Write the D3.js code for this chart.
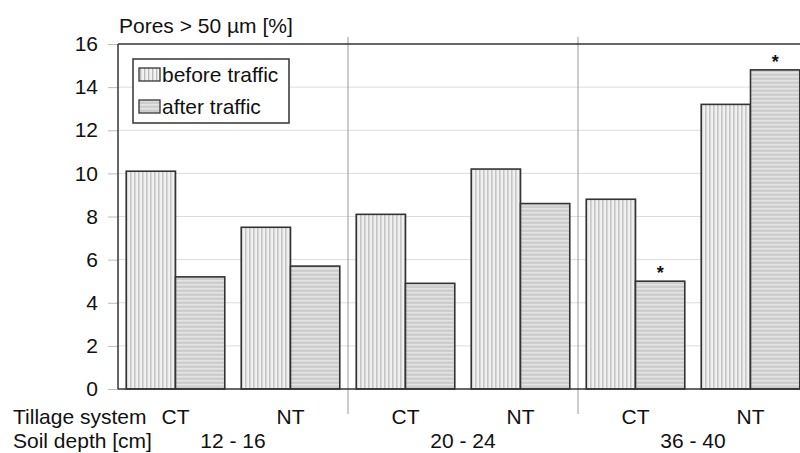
<!DOCTYPE html>
<html>
<head>
<meta charset="utf-8">
<script src="https://cdn.jsdelivr.net/npm/d3@7"></script>
<style>
  body { margin: 0; background: #fff; }
  svg { display: block; font-family: "Liberation Sans", Arial, sans-serif; }
</style>
</head>
<body>
<div id="chart"></div>
<script>
// data
const tillage = ["CT", "NT", "CT", "NT", "CT", "NT"];
const depths = ["12 - 16", "20 - 24", "36 - 40"];
const beforeTraffic = [10.1, 7.5, 8.1, 10.2, 8.8, 13.2];
const afterTraffic = [5.2, 5.7, 4.9, 8.6, 5.0, 14.8];
const afterSignificant = [false, false, false, false, true, true];
const seriesNames = ["before traffic", "after traffic"];
const yTicks = [0, 2, 4, 6, 8, 10, 12, 14, 16];

const width = 800, height = 453;
const plotLeft = 118, plotRight = 808, plotTop = 44, plotBottom = 389;

const svg = d3.select("#chart").append("svg")
    .attr("width", width)
    .attr("height", height)
    .style("overflow", "hidden");

// patterns
const defs = svg.append("defs");
const pv = defs.append("pattern").attr("id", "pBefore")
    .attr("patternUnits", "userSpaceOnUse").attr("width", 4).attr("height", 4);
pv.append("rect").attr("width", 4).attr("height", 4).attr("fill", "#f2f2f2");
pv.append("rect").attr("x", 0).attr("width", 1.3).attr("height", 4).attr("fill", "#b8b8b8");

const ph = defs.append("pattern").attr("id", "pAfter")
    .attr("patternUnits", "userSpaceOnUse").attr("width", 4).attr("height", 4);
ph.append("rect").attr("width", 4).attr("height", 4).attr("fill", "#cdcdcd");
ph.append("rect").attr("y", 0).attr("width", 4).attr("height", 1.5).attr("fill", "#e4e4e4");

const fills = ["url(#pBefore)", "url(#pAfter)"];

// scales
const ids = tillage.map((d, i) => i);
const x = d3.scaleBand()
    .domain(ids)
    .range([plotLeft, plotRight])
    .paddingInner(0.143)
    .paddingOuter(0.0715);

const xSub = d3.scaleBand()
    .domain([0, 1])
    .range([0, x.bandwidth()])
    .padding(0);

const y = d3.scaleLinear()
    .domain([0, 16])
    .range([plotBottom, plotTop]);

// gridlines
svg.append("g")
    .selectAll("line")
    .data(yTicks.slice(1, -1))
    .enter().append("line")
    .attr("x1", plotLeft).attr("x2", plotRight)
    .attr("y1", d => y(d)).attr("y2", d => y(d))
    .attr("stroke", "#dcdcdc")
    .attr("stroke-width", 1);

// y axis
const yAxis = svg.append("g")
    .attr("transform", `translate(${plotLeft},0)`)
    .call(d3.axisLeft(y).tickValues(yTicks).tickSize(10).tickPadding(10));
yAxis.select(".domain").remove();
yAxis.selectAll(".tick line").attr("stroke", "#bbb");
yAxis.selectAll(".tick text")
    .attr("font-size", 21)
    .attr("font-family", "Liberation Sans, Arial, sans-serif")
    .attr("fill", "#111");

// group separators
const groupStep = x.step() * 2;
svg.append("g")
    .selectAll("line")
    .data([1, 2])
    .enter().append("line")
    .attr("x1", d => plotLeft + d * groupStep).attr("x2", d => plotLeft + d * groupStep)
    .attr("y1", 37).attr("y2", 414)
    .attr("stroke", "#999")
    .attr("stroke-width", 1);

// bars
const rows = ids.map(i => ({ i, vals: [beforeTraffic[i], afterTraffic[i]] }));
const groups = svg.append("g")
    .selectAll("g")
    .data(rows)
    .enter().append("g")
    .attr("transform", d => `translate(${x(d.i)},0)`);

groups.selectAll("rect")
    .data(d => d.vals.map((v, s) => ({ v, s })))
    .enter().append("rect")
    .attr("x", d => xSub(d.s))
    .attr("y", d => y(d.v))
    .attr("width", xSub.bandwidth())
    .attr("height", d => plotBottom - y(d.v))
    .attr("fill", d => fills[d.s])
    .attr("stroke", "#333")
    .attr("stroke-width", 1.6);

// significance stars
svg.append("g")
    .selectAll("text")
    .data(ids.filter(i => afterSignificant[i]))
    .enter().append("text")
    .attr("x", i => x(i) + xSub(1) + xSub.bandwidth() / 2)
    .attr("y", i => y(afterTraffic[i]) - 2)
    .attr("text-anchor", "middle")
    .attr("font-size", 18)
    .attr("font-weight", "bold")
    .attr("fill", "#111")
    .text("*");

// frame
svg.append("line").attr("x1", plotLeft).attr("x2", plotRight).attr("y1", plotTop).attr("y2", plotTop)
    .attr("stroke", "#333").attr("stroke-width", 1.5);
svg.append("line").attr("x1", plotLeft).attr("x2", plotLeft).attr("y1", plotTop).attr("y2", plotBottom)
    .attr("stroke", "#333").attr("stroke-width", 1.5);
svg.append("line").attr("x1", plotLeft).attr("x2", plotRight).attr("y1", plotBottom).attr("y2", plotBottom)
    .attr("stroke", "#333").attr("stroke-width", 1.5);

// y title
svg.append("text")
    .attr("x", 119).attr("y", 33)
    .attr("font-size", 21)
    .attr("fill", "#111")
    .text("Pores > 50 µm [%]");

// category labels
svg.append("text").attr("x", 13).attr("y", 424)
    .attr("font-size", 21).attr("fill", "#111").text("Tillage system");
svg.append("g")
    .selectAll("text")
    .data(ids)
    .enter().append("text")
    .attr("x", i => x(i) + x.bandwidth() / 2)
    .attr("y", 424)
    .attr("text-anchor", "middle")
    .attr("font-size", 21)
    .attr("fill", "#111")
    .text(i => tillage[i]);

svg.append("text").attr("x", 13).attr("y", 448)
    .attr("font-size", 21).attr("fill", "#111").text("Soil depth [cm]");
svg.append("g")
    .selectAll("text")
    .data(depths)
    .enter().append("text")
    .attr("x", (d, k) => plotLeft + (k + 0.5) * groupStep)
    .attr("y", 448)
    .attr("text-anchor", "middle")
    .attr("font-size", 21)
    .attr("fill", "#111")
    .text(d => d);

// legend
const legend = svg.append("g");
legend.append("rect")
    .attr("x", 133).attr("y", 59).attr("width", 156).attr("height", 64)
    .attr("fill", "#fff").attr("stroke", "#333").attr("stroke-width", 1.5);
seriesNames.forEach((name, s) => {
    legend.append("rect")
        .attr("x", 139).attr("y", 68 + s * 32).attr("width", 21).attr("height", 13)
        .attr("fill", fills[s]).attr("stroke", "#333").attr("stroke-width", 1.3);
    legend.append("text")
        .attr("x", 162).attr("y", 82 + s * 32)
        .attr("font-size", 21)
        .attr("fill", "#111")
        .text(name);
});
</script>
</body>
</html>
